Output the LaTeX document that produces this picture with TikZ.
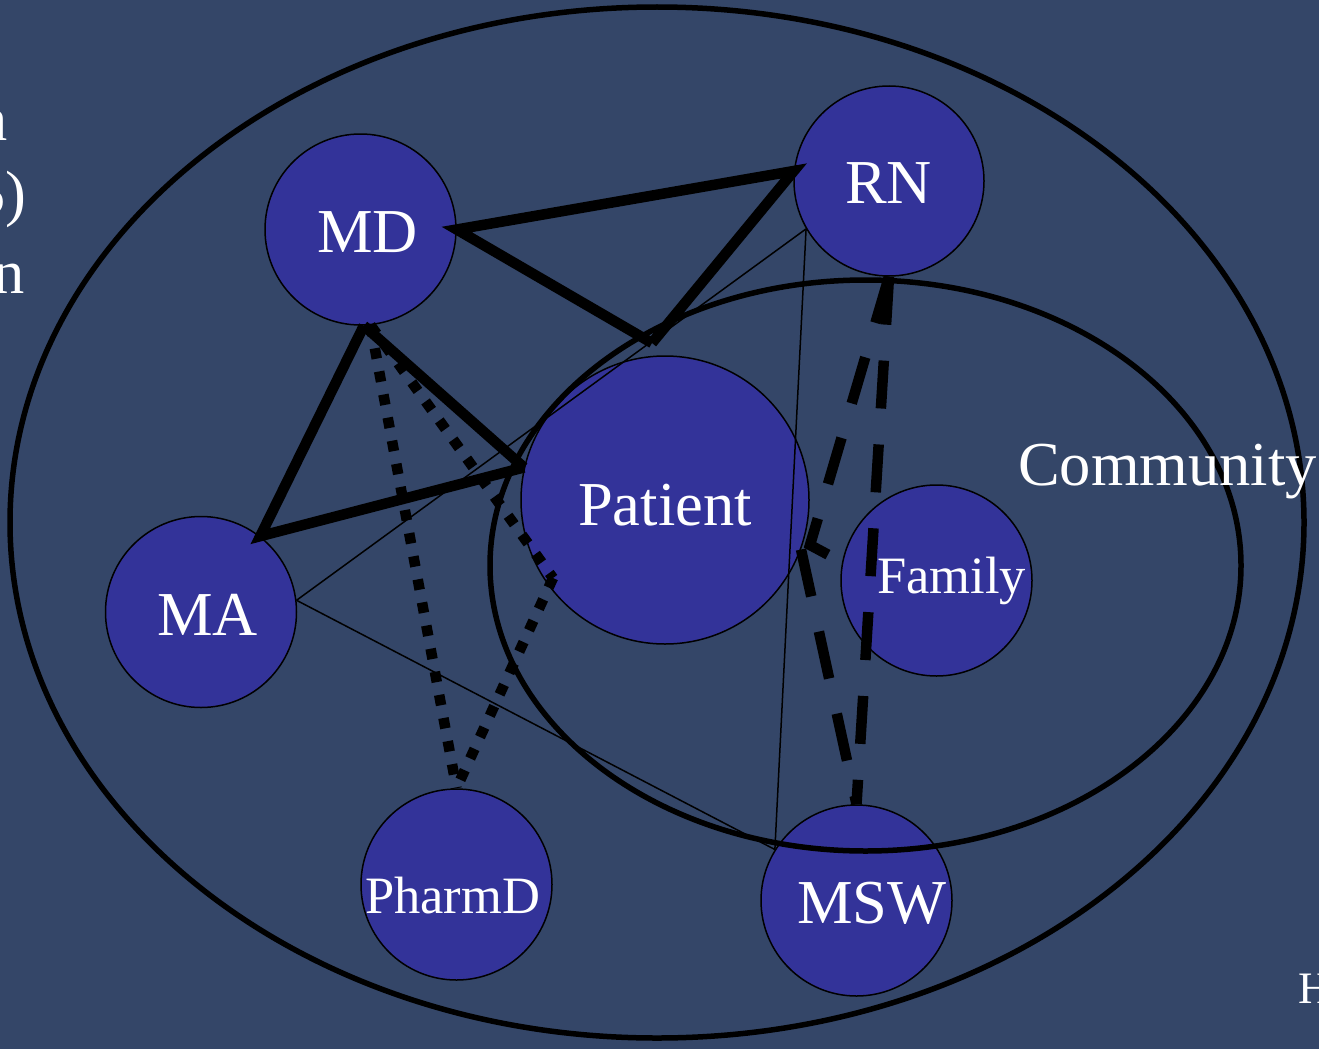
\documentclass[tikz,border=0pt]{standalone}
\usepackage{fontspec}
\setmainfont{Liberation Serif}
\usetikzlibrary{shapes.geometric}
\definecolor{bgcol}{RGB}{52,70,104}
\definecolor{circcol}{RGB}{51,51,153}
\tikzset{
  member/.style={circle, fill=circcol, draw=black, line width=1.5pt, minimum size=191pt, inner sep=0pt},
  bigtxt/.style={text=white, inner sep=0pt, font=\fontsize{62.5}{75}\selectfont},
  smalltxt/.style={text=white, inner sep=0pt, font=\fontsize{52.5}{63}\selectfont},
  ring/.style={ellipse, draw=black, line width=5.5pt, inner sep=0pt},
  strong/.style={draw=black, line width=10.5pt, line join=miter},
  weak/.style={draw=black, line width=1.5pt},
  dotlink/.style={draw=black, line width=10.5pt, dash pattern=on 10.5pt off 13pt},
  dashlink/.style={draw=black, line width=10.5pt, dash pattern=on 48pt off 36pt, line join=miter}
}
\begin{document}
\begin{tikzpicture}[x=1pt, y=-1pt]
\useasboundingbox (0,0) rectangle (1319,1049);
\clip (0,0) rectangle (1319,1049);
\fill[bgcol] (0,0) rectangle (1319,1049);

% members
\node[member, minimum size=288pt] (P) at (665,500) {};
\node[member] (MD) at (360.5,229.5) {};
\node[member, minimum size=190pt] (RN) at (889,181) {};
\node[member] (MA) at (201,612) {};
\node[member] (FAM) at (936.5,580.5) {};
\node[member] (PH) at (456.5,884.5) {};
\node[member] (MSW) at (856.5,900.5) {};

% rings
\node[ring, minimum width=1294pt, minimum height=1031pt] (world) at (657,522.5) {};
\node[ring, minimum width=751pt, minimum height=571pt] (comm) at (865.5,565.5) {};

% junction points
\coordinate (J) at (652,343);
\coordinate (K) at (553,578);
\coordinate (B) at (810,545);

% strong links
\draw[strong] (MD.-88) -- (MA.52) -- (P.167);
\draw[strong] (MD.-88) -- (P.167);
\draw[strong] (J) -- (MD.0) -- (RN.174) -- (J);

% weak links
\draw[weak] (MA.7) -- (RN.210);
\draw[weak] (MA.7) -- (MSW.148);
\draw[weak] (RN.210) -- (MSW.148);

% dotted links
\draw[dotlink] (MD.-84) -- (PH.north);
\draw[dotlink] (MD.-84) -- (K);
\draw[dotlink] (K) -- (PH.north);

% dashed links
\draw[dashlink] (RN.south) -- (B) -- (FAM.169);
\draw[dashlink] (RN.south) -- (MSW.north);
\draw[dashlink] (P.-20) -- (MSW.north);

% labels
\node[bigtxt, anchor=base west] (tMD) at (317,252) {MD};
\node[bigtxt, anchor=base west] (tRN) at (845,203) {RN};
\node[bigtxt, anchor=base west] (tMA) at (157,635) {MA};
\node[bigtxt, anchor=base west] (tP) at (578,525) {Patient};
\node[smalltxt, anchor=base west] (tFAM) at (877,593) {Family};
\node[smalltxt, anchor=base west] (tPH) at (365,913) {PharmD};
\node[bigtxt, anchor=base west] (tMSW) at (797,923) {MSW};
\node[bigtxt, anchor=base west] (tComm) at (1018,485) {Community};

% cut-off text at the edges, as in the reference
\node[bigtxt, anchor=base east] (l1) at (8,140) {n};
\node[bigtxt, anchor=base east] (l2) at (27,214) {5)};
\node[bigtxt, anchor=base east] (l3) at (25,293) {n};
\node[text=white, inner sep=0pt, font=\fontsize{45}{54}\selectfont, anchor=base west] (hh) at (1298,1003) {H};
\end{tikzpicture}
\end{document}
